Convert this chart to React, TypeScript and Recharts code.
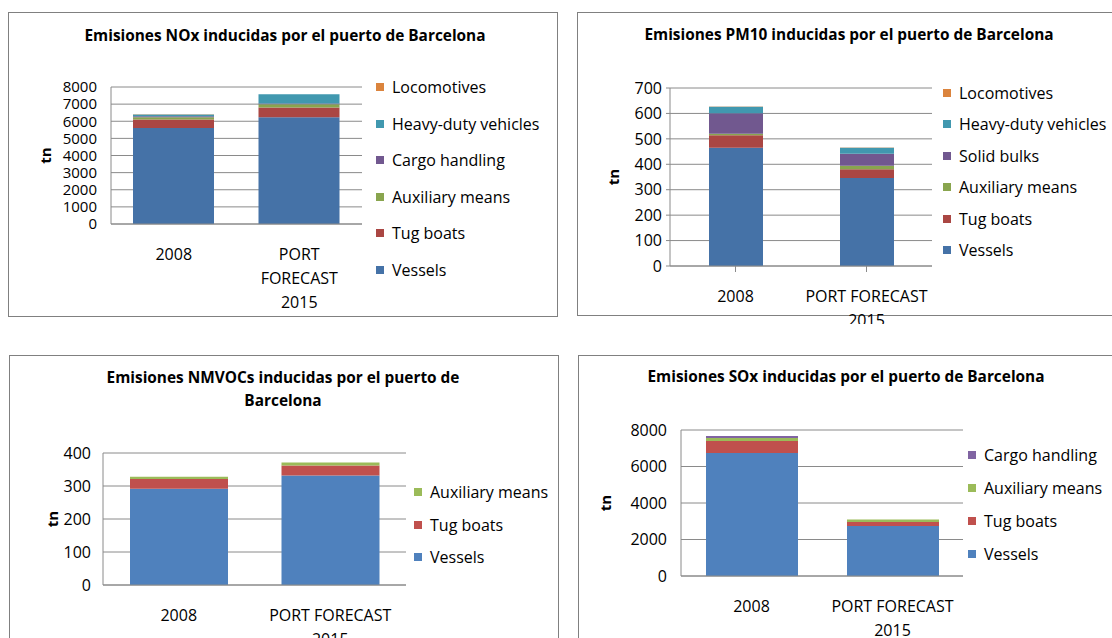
import { BarChart, Bar, XAxis, YAxis, CartesianGrid, Label, Text } from 'recharts'

const categories = ['2008', 'PORT FORECAST 2015']

// NOx, tn
const noxVessels = [5600, 6230]
const noxTugBoats = [500, 570]
const noxAuxiliary = [130, 200]
const noxCargo = [60, 30]
const noxHeavyDuty = [110, 540]
const noxLocomotives = [15, 10]
const noxTicks = [0, 1000, 2000, 3000, 4000, 5000, 6000, 7000, 8000]

// PM10, tn
const pmVessels = [465, 346]
const pmTugBoats = [49, 34]
const pmAuxiliary = [6, 14]
const pmSolidBulks = [81, 47]
const pmHeavyDuty = [25, 24]
const pmLocomotives = [1, 1]
const pmTicks = [0, 100, 200, 300, 400, 500, 600, 700]

// NMVOCs, tn
const vocVessels = [292, 332]
const vocTugBoats = [29, 30]
const vocAuxiliary = [7, 9]
const vocTicks = [0, 100, 200, 300, 400]

// SOx, tn
const soxVessels = [6740, 2740]
const soxTugBoats = [660, 220]
const soxAuxiliary = [160, 130]
const soxCargo = [110, 10]
const soxTicks = [0, 2000, 4000, 6000, 8000]

const dark = { vessels: '#4572A7', tug: '#AA4643', aux: '#89A54E', purple: '#71588F', hdv: '#4198AF', loco: '#DB843D' }
const light = { vessels: '#4F81BD', tug: '#C0504D', aux: '#9BBB59', purple: '#8064A2' }

const FONT = '"Open Sans", sans-serif'
const GRID = '#8a8a8a'

type Series = { name: string; values: number[]; color: string }

interface PanelProps {
  title: string[]
  titleX: number
  titleY: number
  box: { left: number; top: number; right: number; bottom: number }
  plot: { left: number; top: number; right: number; bottom: number }
  chartBottom: number
  series: Series[]
  ticks: number[]
  tickFont?: number
  tickGap?: number
  barSize: number
  wrap: number
  labelX: number
  legendX: number
  legendY: number
  legendStep: number
  tickLines?: boolean
}

function CategoryTick(props: any) {
  const { x, y, payload, wrap } = props
  return (
    <Text
      x={x}
      y={y + 17}
      width={wrap}
      textAnchor="middle"
      verticalAnchor="start"
      lineHeight={24}
      fill="#000"
      style={{ fontSize: 16, fontFamily: FONT }}
    >
      {payload.value}
    </Text>
  )
}

function Panel(p: PanelProps) {
  const cl = p.box.left + 2
  const ct = p.plot.top - 20
  const width = p.plot.right - cl + 10
  const height = p.chartBottom - ct
  const data = categories.map((c, i) => {
    const row: Record<string, string | number> = { category: c }
    p.series.forEach((s) => (row[s.name] = s.values[i]))
    return row
  })
  const midY = (p.plot.top + p.plot.bottom) / 2

  return (
    <>
      <div
        style={{
          position: 'absolute',
          left: p.box.left,
          top: p.box.top,
          width: p.box.right - p.box.left,
          height: p.box.bottom - p.box.top,
          border: '1px solid #808080',
        }}
      />
      {p.title.map((t, i) => (
        <div
          key={t}
          style={{
            position: 'absolute',
            left: p.titleX - 300,
            width: 600,
            top: p.titleY - 11 + i * 23,
            textAlign: 'center',
            fontFamily: FONT,
            fontWeight: 700,
            fontSize: 15.4,
            lineHeight: '22px',
            whiteSpace: 'nowrap',
          }}
        >
          {t}
        </div>
      ))}
      <div style={{ position: 'absolute', left: cl, top: ct }}>
        <BarChart width={width} height={height} data={data} margin={{ top: 20, right: 10, bottom: 0, left: 0 }}>
          <CartesianGrid vertical={false} stroke={GRID} />
          <XAxis
            dataKey="category"
            height={p.chartBottom - p.plot.bottom}
            stroke={GRID}
            tickLine={!!p.tickLines}
            tickSize={6}
            interval={0}
            tick={<CategoryTick wrap={p.wrap} />}
          />
          <YAxis
            width={p.plot.left - cl}
            domain={[p.ticks[0], p.ticks[p.ticks.length - 1]]}
            ticks={p.ticks}
            interval={0}
            stroke={GRID}
            tickLine={!!p.tickLines}
            tickSize={p.tickLines ? 4 : 6}
            tickMargin={p.tickGap ?? (p.tickLines ? 4 : 8)}
            tick={{ fill: '#000', fontSize: p.tickFont ?? 16, fontFamily: FONT }}
          >
            <Label
              content={() => (
                <text
                  x={p.labelX - cl}
                  y={midY - ct}
                  transform={`rotate(-90, ${p.labelX - cl}, ${midY - ct})`}
                  textAnchor="middle"
                  dominantBaseline="central"
                  fontFamily={FONT}
                  fontWeight={700}
                  fontSize={15}
                  fill="#000"
                >
                  tn
                </text>
              )}
            />
          </YAxis>
          {p.series.map((s) => (
            <Bar key={s.name} dataKey={s.name} stackId="a" fill={s.color} barSize={p.barSize} isAnimationActive={false} />
          ))}
        </BarChart>
      </div>
      {[...p.series].reverse().map((s, i) => (
        <div
          key={s.name}
          style={{
            position: 'absolute',
            left: p.legendX,
            top: p.legendY + i * p.legendStep - 11,
            height: 22,
            display: 'flex',
            alignItems: 'center',
            fontFamily: FONT,
            fontSize: 16,
            whiteSpace: 'nowrap',
          }}
        >
          <span style={{ width: 8, height: 8, background: s.color, marginRight: 8, display: 'inline-block' }} />
          {s.name}
        </div>
      ))}
    </>
  )
}

export default function App() {
  const nox: Series[] = [
    { name: 'Vessels', values: noxVessels, color: dark.vessels },
    { name: 'Tug boats', values: noxTugBoats, color: dark.tug },
    { name: 'Auxiliary means', values: noxAuxiliary, color: dark.aux },
    { name: 'Cargo handling', values: noxCargo, color: dark.purple },
    { name: 'Heavy-duty vehicles', values: noxHeavyDuty, color: dark.hdv },
    { name: 'Locomotives', values: noxLocomotives, color: dark.loco },
  ]
  const pm: Series[] = [
    { name: 'Vessels', values: pmVessels, color: dark.vessels },
    { name: 'Tug boats', values: pmTugBoats, color: dark.tug },
    { name: 'Auxiliary means', values: pmAuxiliary, color: dark.aux },
    { name: 'Solid bulks', values: pmSolidBulks, color: dark.purple },
    { name: 'Heavy-duty vehicles', values: pmHeavyDuty, color: dark.hdv },
    { name: 'Locomotives', values: pmLocomotives, color: dark.loco },
  ]
  const voc: Series[] = [
    { name: 'Vessels', values: vocVessels, color: light.vessels },
    { name: 'Tug boats', values: vocTugBoats, color: light.tug },
    { name: 'Auxiliary means', values: vocAuxiliary, color: light.aux },
  ]
  const sox: Series[] = [
    { name: 'Vessels', values: soxVessels, color: light.vessels },
    { name: 'Tug boats', values: soxTugBoats, color: light.tug },
    { name: 'Auxiliary means', values: soxAuxiliary, color: light.aux },
    { name: 'Cargo handling', values: soxCargo, color: light.purple },
  ]

  return (
    <div style={{ position: 'absolute', left: 0, top: 0, width: 1112, height: 638, overflow: 'hidden', background: '#fff' }}>
      <Panel
        title={['Emisiones NOx inducidas por el puerto de Barcelona']}
        titleX={285}
        titleY={36}
        box={{ left: 8, top: 12, right: 556, bottom: 315 }}
        plot={{ left: 111, top: 87, right: 362, bottom: 224 }}
        chartBottom={314}
        series={nox}
        ticks={noxTicks}
        tickFont={15}
        barSize={81}
        wrap={90}
        labelX={45}
        legendX={376}
        legendY={87}
        legendStep={36.6}
      />
      <Panel
        title={['Emisiones PM10 inducidas por el puerto de Barcelona']}
        titleX={849}
        titleY={35}
        box={{ left: 577, top: 12, right: 1130, bottom: 314 }}
        plot={{ left: 670, top: 88, right: 932, bottom: 266 }}
        chartBottom={324}
        series={pm}
        ticks={pmTicks}
        barSize={54}
        wrap={150}
        labelX={613}
        legendX={943}
        legendY={93}
        legendStep={31.4}
        tickLines
      />
      <Panel
        title={['Emisiones NMVOCs inducidas por el puerto de', 'Barcelona']}
        titleX={283}
        titleY={378}
        box={{ left: 9, top: 355, right: 557, bottom: 660 }}
        plot={{ left: 103, top: 453, right: 406, bottom: 585 }}
        chartBottom={638}
        series={voc}
        ticks={vocTicks}
        tickGap={6}
        barSize={98}
        wrap={150}
        labelX={52}
        legendX={414}
        legendY={492}
        legendStep={32.5}
      />
      <Panel
        title={['Emisiones SOx inducidas por el puerto de Barcelona']}
        titleX={846}
        titleY={377}
        box={{ left: 578, top: 355, right: 1130, bottom: 660 }}
        plot={{ left: 681, top: 430, right: 963, bottom: 576 }}
        chartBottom={638}
        series={sox}
        ticks={soxTicks}
        barSize={92}
        wrap={150}
        labelX={605}
        legendX={968}
        legendY={455}
        legendStep={33}
      />
    </div>
  )
}
